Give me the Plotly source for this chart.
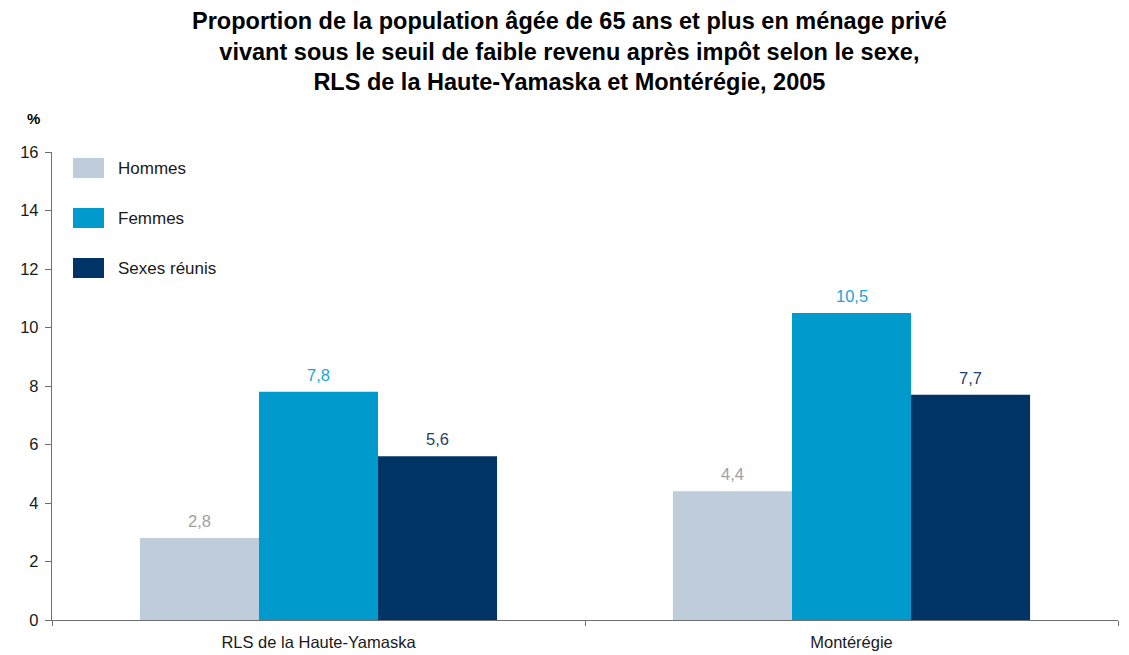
import plotly.graph_objects as go

categories = ["RLS de la Haute-Yamaska", "Montérégie"]
series_names = ["Hommes", "Femmes", "Sexes réunis"]
hommes = [2.8, 4.4]
femmes = [7.8, 10.5]
sexes_reunis = [5.6, 7.7]
y_ticks = [0, 2, 4, 6, 8, 10, 12, 14, 16]

bar_colors = ["#BFCCD9", "#009BCC", "#003366"]
label_colors = ["#A0A0A0", "#1BA3D6", "#1F3F6B"]
values = [hommes, femmes, sexes_reunis]

FONT = "Liberation Sans, Arial, sans-serif"
# the page body has an 8px margin; size the figure so it ends at the window edge
W, H = 1121, 647
ML, MR, MT, MB = 44, 11, 144, 35
plot_w = W - ML - MR
plot_h = H - MT - MB
BARGAP = 0.33

fig = go.Figure()
for name, vals, bc in zip(series_names, values, bar_colors):
    fig.add_trace(go.Bar(
        x=categories, y=vals, name=name,
        marker=dict(color=bc, line=dict(width=0)),
        showlegend=False, hoverinfo="x+y+name",
    ))

# value labels above bars
n_series = len(series_names)
bar_px = (plot_w / len(categories)) * (1 - BARGAP) / n_series
for i, (vals, lc) in enumerate(zip(values, label_colors)):
    off = (i - (n_series - 1) / 2) * bar_px
    for cat, v in zip(categories, vals):
        fig.add_annotation(
            x=cat, y=v, xref="x", yref="y", text=f"{v:.1f}".replace(".", ","),
            showarrow=False, xshift=off, yshift=17, yanchor="middle", xanchor="center",
            font=dict(size=16.5, color=lc, family=FONT),
        )

fig.update_layout(
    width=W, height=H,
    margin=dict(l=ML, r=MR, t=MT, b=MB, autoexpand=False),
    paper_bgcolor="white", plot_bgcolor="white",
    barmode="group", bargap=BARGAP, bargroupgap=0,
    separators=", ",
    font=dict(family=FONT, size=17, color="#1a1a1a"),
    xaxis=dict(
        showline=True, linecolor="#707070", linewidth=1.3,
        ticks="outside", tickson="boundaries", ticklen=5, tickcolor="#707070",
        tickfont=dict(size=16.5), showgrid=False, ticklabelstandoff=7,
    ),
    yaxis=dict(
        range=[0, 16], tickvals=y_ticks, showline=True, linecolor="#707070", linewidth=1.3,
        ticks="outside", ticklen=6, tickcolor="#707070", showgrid=False, zeroline=False,
        tickfont=dict(size=16.5), ticklabelstandoff=3,
    ),
)

def px_x(X):
    return (X - 8 - ML) / plot_w

def px_y(Y):
    return (H - MB - (Y - 8)) / plot_h

# Title
fig.add_annotation(
    text="<b>Proportion de la population âgée de 65 ans et plus en ménage privé<br>"
         "vivant sous le seuil de faible revenu après impôt selon le sexe,<br>"
         "RLS de la Haute-Yamaska et Montérégie, 2005</b>",
    xref="paper", yref="paper", x=px_x(569), y=px_y(51),
    xanchor="center", yanchor="middle", showarrow=False, align="center",
    borderpad=0,
    font=dict(size=23.5, color="#000000", family=FONT),
)

# "%" unit label
fig.add_annotation(text="<b>%</b>", xref="paper", yref="paper", x=px_x(33), y=px_y(118),
                   showarrow=False, font=dict(size=15, color="#000000"),
                   xanchor="center", yanchor="middle")

# Custom legend
legend_rows = [168, 218, 268]
for name, bc, yc in zip(series_names, bar_colors, legend_rows):
    fig.add_shape(type="rect", xref="paper", yref="paper",
                  x0=px_x(73), x1=px_x(104), y0=px_y(yc + 10), y1=px_y(yc - 10),
                  fillcolor=bc, line=dict(width=0))
    fig.add_annotation(text=name, xref="paper", yref="paper",
                       x=px_x(116), y=px_y(yc),
                       xanchor="left", yanchor="middle", showarrow=False,
                       font=dict(size=17, color="#1a1a1a"))

fig.write_html("out.html")
